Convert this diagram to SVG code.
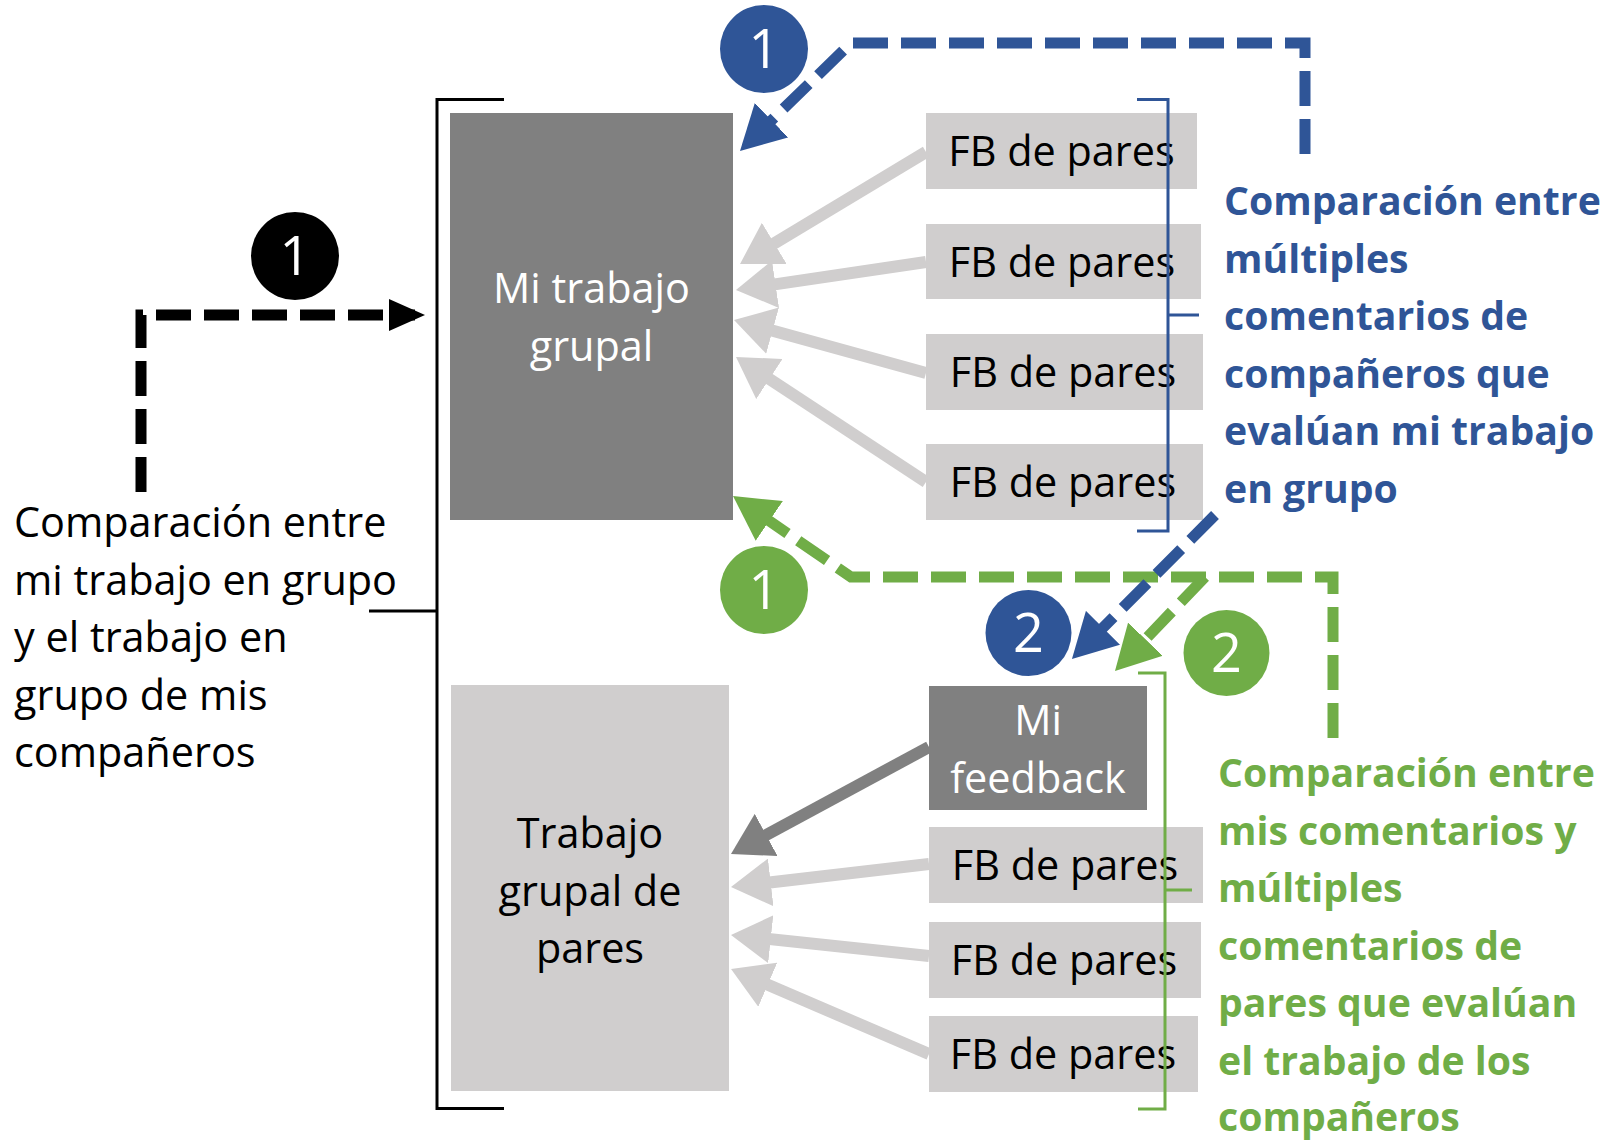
<svg xmlns="http://www.w3.org/2000/svg" width="1608" height="1140" viewBox="0 0 1608 1140">
<style>
.t{font-family:"Open Sans","Liberation Sans",sans-serif;font-size:41.4px}
.b{font-family:"Open Sans","Liberation Sans",sans-serif;font-size:39.2px;font-weight:bold}
.num{font-family:"Open Sans","Liberation Sans",sans-serif;font-size:54px;fill:#fff;text-anchor:middle}
.c{text-anchor:middle}
.fb{fill:#D0CECE}
.dk{fill:#808080}
.ga{stroke:#D0CECE;stroke-width:12;fill:none}
.da{stroke:#808080;stroke-width:12;fill:none}
.dash{fill:none;stroke-width:11;stroke-dasharray:35 13}
.br{fill:none;stroke-width:3}
</style>
<defs>
<marker id="hG" markerUnits="userSpaceOnUse" viewBox="0 -24 40 48" markerWidth="40" markerHeight="48" refX="26" refY="0" orient="auto"><path d="M0,-24 L40,0 L0,24 z" fill="#D0CECE"/></marker>
<marker id="hD" markerUnits="userSpaceOnUse" viewBox="0 -24 40 48" markerWidth="40" markerHeight="48" refX="26" refY="0" orient="auto"><path d="M0,-24 L40,0 L0,24 z" fill="#808080"/></marker>
<marker id="hBlue" markerUnits="userSpaceOnUse" viewBox="0 -24 44 48" markerWidth="44" markerHeight="48" refX="32" refY="0" orient="auto"><path d="M0,-24 L44,0 L0,24 z" fill="#2F5597"/></marker>
<marker id="hGreen" markerUnits="userSpaceOnUse" viewBox="0 -24 44 48" markerWidth="44" markerHeight="48" refX="32" refY="0" orient="auto"><path d="M0,-24 L44,0 L0,24 z" fill="#70AD47"/></marker>
<marker id="hBlack" markerUnits="userSpaceOnUse" viewBox="0 -16 36 32" markerWidth="36" markerHeight="32" refX="26" refY="0" orient="auto"><path d="M0,-16 L36,0 L0,16 z" fill="#000"/></marker>
</defs>
<rect width="1608" height="1140" fill="#fff"/>

<g id="mi-trabajo">
<rect x="450" y="113" width="283" height="407" class="dk"/>
<text class="t c" x="591.5" y="303" fill="#fff">Mi trabajo</text>
<text class="t c" x="591.5" y="361" fill="#fff">grupal</text>
</g>
<g id="trabajo-pares">
<rect x="451" y="685" width="278" height="406" class="fb"/>
<text class="t c" x="590" y="848">Trabajo</text>
<text class="t c" x="590" y="905.5">grupal de</text>
<text class="t c" x="590" y="963">pares</text>
</g>
<g id="fb1"><rect x="926" y="113" width="271" height="76" class="fb"/><text class="t c" x="1061.5" y="166">FB de pares</text></g>
<g id="fb2"><rect x="926" y="224" width="275" height="75" class="fb"/><text class="t c" x="1062" y="276.5">FB de pares</text></g>
<g id="fb3"><rect x="926" y="334" width="277" height="76" class="fb"/><text class="t c" x="1063" y="387">FB de pares</text></g>
<g id="fb4"><rect x="926" y="444" width="277" height="76" class="fb"/><text class="t c" x="1063" y="497">FB de pares</text></g>
<g id="mi-feedback">
<rect x="929" y="686" width="218" height="124" class="dk"/>
<text class="t c" x="1038" y="735" fill="#fff">Mi</text>
<text class="t c" x="1038" y="793" fill="#fff">feedback</text>
</g>
<g id="fb5"><rect x="929" y="827" width="274" height="76" class="fb"/><text class="t c" x="1065" y="880">FB de pares</text></g>
<g id="fb6"><rect x="929" y="922" width="272" height="76" class="fb"/><text class="t c" x="1064" y="975">FB de pares</text></g>
<g id="fb7"><rect x="929" y="1016" width="269" height="76" class="fb"/><text class="t c" x="1063" y="1069">FB de pares</text></g>

<g id="brackets">
<path class="br" stroke="#000" d="M504,99.5 H437 V1108.5 H504 M369,611 H437"/>
<path class="br" stroke="#2F5597" d="M1137,99.5 H1168 V531 H1137 M1168,315 H1199"/>
<path class="br" stroke="#70AD47" d="M1138,673 H1165 V1109 H1138 M1165,890 H1192"/>
</g>

<g id="connectors">
<line class="ga" x1="926" y1="152" x2="752" y2="256.8" marker-end="url(#hG)"/>
<line class="ga" x1="926" y1="262" x2="749.8" y2="288" marker-end="url(#hG)"/>
<line class="ga" x1="926" y1="373" x2="747.5" y2="323.7" marker-end="url(#hG)"/>
<line class="ga" x1="926" y1="482" x2="747.7" y2="364.7" marker-end="url(#hG)"/>
<line class="da" x1="929" y1="747" x2="743.3" y2="847.3" marker-end="url(#hD)"/>
<line class="ga" x1="929" y1="864" x2="744.9" y2="885.4" marker-end="url(#hG)"/>
<line class="ga" x1="929" y1="956" x2="744.9" y2="936.5" marker-end="url(#hG)"/>
<line class="ga" x1="929" y1="1054" x2="743.9" y2="974.5" marker-end="url(#hG)"/>
<path class="dash" stroke="#000" d="M141,492 V315 H415" marker-end="url(#hBlack)"/>
<path class="dash" stroke="#2F5597" d="M1305,154 V43 H851 L748.6,142.6" marker-end="url(#hBlue)"/>
<path class="dash" stroke="#70AD47" d="M1333,738 V577 H851 L742.9,502.8" marker-end="url(#hGreen)"/>
<path class="dash" stroke="#70AD47" d="M1205,577 L1123.3,662.3" marker-end="url(#hGreen)"/>
<path class="dash" stroke="#2F5597" d="M1215,515 L1080.4,650.5" marker-end="url(#hBlue)"/>
</g>

<g id="badges">
<circle cx="764" cy="49" r="44" fill="#2F5597"/><text class="num" x="764" y="68">1</text>
<circle cx="295" cy="256" r="44" fill="#000"/><text class="num" x="295" y="275">1</text>
<circle cx="764" cy="590" r="44" fill="#70AD47"/><text class="num" x="764" y="609">1</text>
<circle cx="1028.5" cy="633" r="43" fill="#2F5597"/><text class="num" x="1028.5" y="652">2</text>
<circle cx="1226.5" cy="653" r="43" fill="#70AD47"/><text class="num" x="1226.5" y="672">2</text>
</g>

<g id="label-left">
<text class="t" x="14" y="537">Comparación entre</text>
<text class="t" x="14" y="594.5">mi trabajo en grupo</text>
<text class="t" x="14" y="652">y el trabajo en</text>
<text class="t" x="14" y="709.5">grupo de mis</text>
<text class="t" x="14" y="767">compañeros</text>
</g>
<g id="label-blue" fill="#2F5597">
<text class="b" x="1224" y="215">Comparación entre</text>
<text class="b" x="1224" y="272.5">múltiples</text>
<text class="b" x="1224" y="330">comentarios de</text>
<text class="b" x="1224" y="387.5">compañeros que</text>
<text class="b" x="1224" y="445">evalúan mi trabajo</text>
<text class="b" x="1224" y="502.5">en grupo</text>
</g>
<g id="label-green" fill="#70AD47">
<text class="b" x="1218" y="787">Comparación entre</text>
<text class="b" x="1218" y="844.5">mis comentarios y</text>
<text class="b" x="1218" y="902">múltiples</text>
<text class="b" x="1218" y="959.5">comentarios de</text>
<text class="b" x="1218" y="1017">pares que evalúan</text>
<text class="b" x="1218" y="1074.5">el trabajo de los</text>
<text class="b" x="1218" y="1131">compañeros</text>
</g>
</svg>
